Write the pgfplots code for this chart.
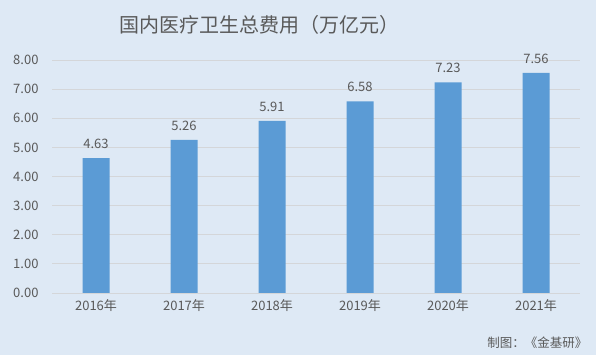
\documentclass[border=0pt]{standalone}
\usepackage{pgfplots}
\pgfplotsset{compat=1.18}
\usepackage{fontspec}
\setmainfont{Noto Sans CJK SC}
\definecolor{bg}{HTML}{DEE9F5}
\definecolor{barc}{HTML}{5B9BD5}
\definecolor{txt}{HTML}{595959}
\definecolor{gridc}{HTML}{D4D6D9}
\begin{document}
\begin{tikzpicture}[x=1pt,y=1pt]
\fill[bg] (0,0) rectangle (596,355);
\node[txt,font=\fontsize{20}{22}\selectfont] at (259,330) {国内医疗卫生总费用（万亿元）};
\node[txt,font=\fontsize{12.5}{14}\selectfont,anchor=east] at (591,12) {制图：《金基研》};
\begin{axis}[
  at={(52pt,62pt)}, anchor=south west,
  scale only axis, width=528pt, height=233pt,
  xmin=-0.5, xmax=5.5, ymin=0, ymax=8,
  ytick={0,1,...,8},
  xtick={0,...,5},
  xticklabels={2016年,2017年,2018年,2019年,2020年,2021年},
  ymajorgrids, grid style={gridc, line width=0.8pt},
  axis line style={draw=none},
  major tick length=0pt,
  tick label style={txt, font=\fontsize{13}{15}\selectfont},
  /pgf/number format/fixed, /pgf/number format/fixed zerofill,
  /pgf/number format/precision=2, /pgf/number format/assume math mode=true,
  yticklabel style={xshift=-10pt},
  xticklabel style={yshift=-3pt},
  ybar, bar width=27pt,
  nodes near coords,
  every node near coord/.append style={txt, font=\fontsize{13}{15}\selectfont, yshift=6pt},
]
\addplot[fill=barc, draw=none] coordinates {(0,4.63) (1,5.26) (2,5.91) (3,6.58) (4,7.23) (5,7.56)};
\end{axis}
\end{tikzpicture}
\end{document}
